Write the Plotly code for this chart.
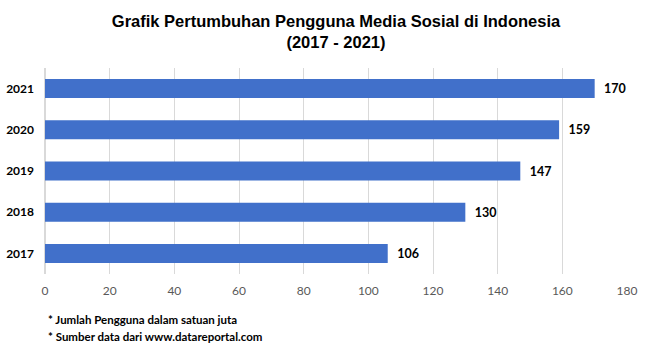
import plotly.graph_objects as go

years = ["2017", "2018", "2019", "2020", "2021"]
users = [106, 130, 147, 159, 170]
x_ticks = [0, 20, 40, 60, 80, 100, 120, 140, 160, 180]
notes = ["* Jumlah Pengguna dalam satuan juta", "* Sumber data dari www.datareportal.com"]

fig = go.Figure()
fig.add_trace(go.Bar(
    y=years, x=users, orientation="h", width=0.46,
    marker=dict(color="#4170CA", line=dict(width=0)),
    text=["\u00a0\u00a0<b>" + str(v) + "</b>" for v in users], textposition="outside",
    textfont=dict(family="Lato", size=12.5, color="#000000"),
    cliponaxis=False,
))
fig.update_traces(textangle=0)

fig.update_layout(
    width=652, height=351,
    margin=dict(l=45, r=25, t=68, b=77),
    plot_bgcolor="white", paper_bgcolor="white",
    showlegend=False,
    bargap=0.54,
    title=dict(
        text="<b>Grafik Pertumbuhan Pengguna Media Sosial di Indonesia<br>(2017 - 2021)</b>",
        x=0.5, xanchor="center", xref="paper",
        yref="container", y=1 - 27 / 351, yanchor="middle",
        font=dict(family="Liberation Sans, Arial", size=16.5, color="#000000"),
    ),
    xaxis=dict(
        range=[0, 180], tickvals=x_ticks, showgrid=True, gridcolor="#D9D9D9",
        gridwidth=1, zeroline=True, zerolinecolor="#D9D9D9", showline=False,
        tickfont=dict(family="Lato", size=12, color="#595959"),
        ticks="", ticklabelstandoff=8, fixedrange=True, automargin=False,
    ),
    yaxis=dict(
        categoryorder="array", categoryarray=years, showgrid=False,
        tickfont=dict(family="Lato", size=12, color="#000000", weight="bold"),
        ticks="", ticklabelstandoff=10, showline=False, automargin=False,
    ),
)

for i, n in enumerate(notes):
    fig.add_annotation(
        text="<b>" + n + "</b>", xref="paper", yref="paper", x=0, xanchor="left",
        xshift=1, y=-0.22 - i * 0.085, yanchor="middle", showarrow=False,
        font=dict(family="Lato", size=11.5, color="#000000"),
    )

fig.write_html("out.html")
